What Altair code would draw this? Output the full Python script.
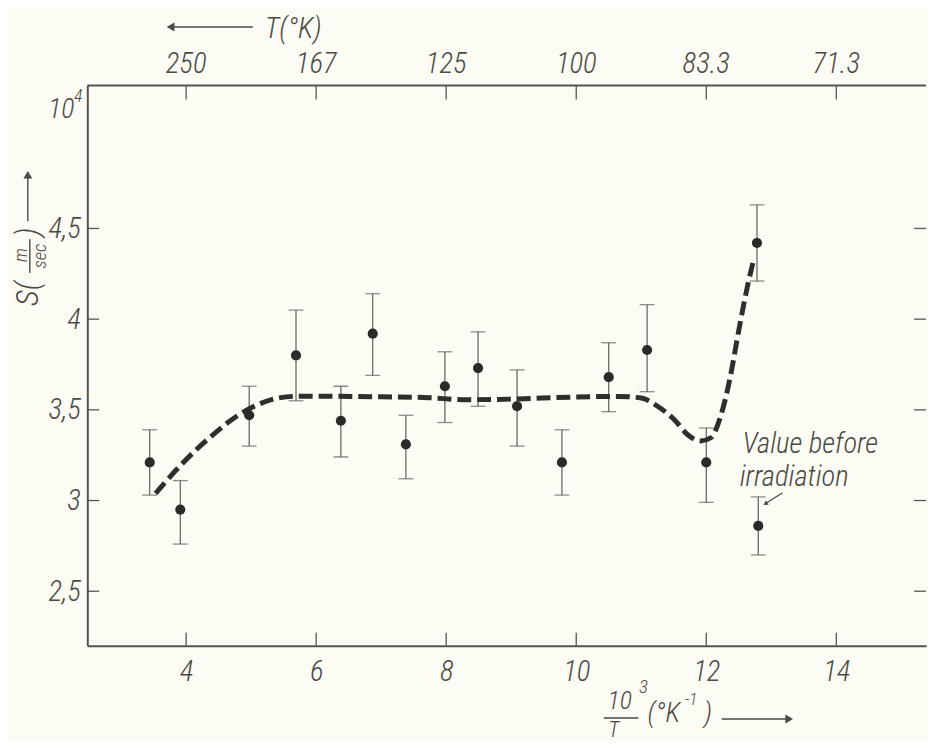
import altair as alt
import pandas as pd

# ---------------- data ----------------
inv_T = [3.44, 3.91, 4.97, 5.69, 6.38, 6.87, 7.38, 7.98, 8.49, 9.09, 9.78, 10.50, 11.09, 12.00, 12.78, 12.80]
S_val = [3.21, 2.95, 3.47, 3.80, 3.44, 3.92, 3.31, 3.63, 3.73, 3.52, 3.21, 3.68, 3.83, 3.21, 4.42, 2.86]
S_hi = [3.39, 3.11, 3.63, 4.05, 3.63, 4.14, 3.47, 3.82, 3.93, 3.72, 3.39, 3.87, 4.08, 3.40, 4.63, 3.02]
S_lo = [3.03, 2.76, 3.30, 3.55, 3.24, 3.69, 3.12, 3.43, 3.52, 3.30, 3.03, 3.49, 3.60, 2.99, 4.21, 2.70]

curve_x = [3.53, 3.93, 4.34, 4.80, 5.11, 5.41, 5.72, 6.00, 7.00, 7.74, 8.26, 9.10, 9.48,
           10.64, 11.00, 11.25, 11.51, 11.71, 11.91, 12.07, 12.22, 12.37, 12.50, 12.63, 12.73]
curve_S = [3.04, 3.20, 3.34, 3.47, 3.53, 3.565, 3.575, 3.575, 3.572, 3.567, 3.556, 3.56, 3.565,
           3.574, 3.565, 3.52, 3.446, 3.364, 3.328, 3.346, 3.464, 3.683, 3.938, 4.175, 4.33]

x_ticks = [4, 6, 8, 10, 12, 14]
top_labels = ["250", "167", "125", "100", "83.3", "71.3"]
y_ticks = [2.5, 3, 3.5, 4, 4.5]

# ---------------- styling ----------------
FONT = "Roboto Condensed, Roboto, sans-serif"
FW = 300
TXT = "#4a4a45"
FRAME = "#55554f"
BAR = "#5e5e58"
DOT = "#2a2a28"
BG = "#fcfbf4"
W, H = 846, 565
LS = 29

xs = alt.Scale(domain=[2.48, 15.38], nice=False, zero=False)
ys = alt.Scale(domain=[2.2, 5.288], nice=False, zero=False)

xaxis = alt.Axis(values=x_ticks, format="d", title=None, ticks=False, tickSize=0, grid=False,
                 domain=True, domainColor=FRAME, domainWidth=2, labelPadding=12,
                 labelAngle=0)
yaxis = alt.Axis(values=y_ticks, format=".1~f", labelExpr="replace(datum.label, '.', ',')",
                 title=None, ticks=False, tickSize=0, grid=False, domain=True,
                 domainColor=FRAME, domainWidth=2, labelPadding=7)

pts = pd.DataFrame({"x": inv_T, "S": S_val, "hi": S_hi, "lo": S_lo})
curve = pd.DataFrame({"x": curve_x, "S": curve_S})
xt = pd.DataFrame({"x": x_ticks, "lab": top_labels})
yt = pd.DataFrame({"y": y_ticks})
one = pd.DataFrame({"k": [0]})

base = alt.Chart(pts)
err = base.mark_rule(color=BAR, strokeWidth=1.2).encode(
    x=alt.X("x:Q", scale=xs, axis=xaxis),
    y=alt.Y("lo:Q", scale=ys, axis=yaxis),
    y2="hi:Q")
cap_hi = base.mark_tick(orient="horizontal", size=15, thickness=1.3, color=BAR).encode(
    x=alt.X("x:Q", scale=xs), y=alt.Y("hi:Q", scale=ys))
cap_lo = base.mark_tick(orient="horizontal", size=15, thickness=1.3, color=BAR).encode(
    x=alt.X("x:Q", scale=xs), y=alt.Y("lo:Q", scale=ys))
dots = base.mark_circle(size=105, color=DOT, opacity=1).encode(
    x=alt.X("x:Q", scale=xs), y=alt.Y("S:Q", scale=ys))

line = alt.Chart(curve).mark_line(color="#2e2e2c", strokeWidth=5, strokeDash=[14, 6],
                                  interpolate="monotone", strokeCap="butt").encode(
    x=alt.X("x:Q", scale=xs), y=alt.Y("S:Q", scale=ys))

# inward ticks
tk = dict(color=FRAME, strokeWidth=1.3)
bt = alt.Chart(xt).mark_rule(**tk).encode(x=alt.X("x:Q", scale=xs), y=alt.value(H), y2=alt.value(H - 13))
tt = alt.Chart(xt).mark_rule(**tk).encode(x=alt.X("x:Q", scale=xs), y=alt.value(0), y2=alt.value(14))
lt = alt.Chart(yt).mark_rule(**tk).encode(y=alt.Y("y:Q", scale=ys), x=alt.value(0), x2=alt.value(12))
rt = alt.Chart(yt).mark_rule(**tk).encode(y=alt.Y("y:Q", scale=ys), x=alt.value(W - 12), x2=alt.value(W))
top_line = alt.Chart(one).mark_rule(color=FRAME, strokeWidth=2).encode(
    x=alt.value(0), x2=alt.value(W), y=alt.value(0))

# top axis labels (T in K)
top_txt = alt.Chart(xt).mark_text(font=FONT, fontSize=LS, fontStyle="italic", fontWeight=FW,
                                  color=TXT, baseline="middle").encode(
    x=alt.X("x:Q", scale=xs), y=alt.value(-22), text="lab:N")


def txt(s, x, y, size=26, align="center", angle=0):
    return alt.Chart(one).mark_text(text=s, font=FONT, fontSize=size, fontStyle="italic",
                                    fontWeight=FW, color=TXT, align=align, baseline="middle",
                                    angle=angle).encode(x=alt.value(x), y=alt.value(y))


def rule(x1, y1, x2, y2, w=1.4):
    return alt.Chart(one).mark_rule(color=TXT, strokeWidth=w).encode(
        x=alt.value(x1), y=alt.value(y1), x2=alt.value(x2), y2=alt.value(y2))


def head(x, y, shape, size=70, angle=0):
    return alt.Chart(one).mark_point(shape=shape, filled=True, color=TXT, size=size, opacity=1,
                                     angle=angle).encode(x=alt.value(x), y=alt.value(y))


deco = [
    # top title  <--- T(K)
    txt("T(°K)", 179, -57, 29, align="left"),
    rule(84, -59, 167, -59),
    head(84, -59, "triangle-left", 80),
    # 10^4 multiplier
    txt("10", -13, 25, 28, align="right"),
    txt("4", -5, 12, 18, align="right"),
    # x title  10^3/T (K^-1) --->
    txt("10", 537, 621, 26),
    rule(521, 638, 556, 638, 1.6),
    txt("T", 531, 650, 22),
    txt("3", 561, 607, 19),
    txt("(°K", 565, 634, 28, align="left"),
    txt("-1", 603, 620, 17, align="left"),
    txt(")", 622, 634, 28, align="left"),
    rule(640, 639, 706, 639),
    head(708, 639, "triangle-right", 80),
    # y title  S(m/sec) --->
    txt("S(", -60, 210, 32, angle=270),
    txt("m", -67, 171, 19, angle=270),
    rule(-58, 155, -58, 189, 1.4),
    txt("sec", -48, 172, 19, angle=270),
    txt(")", -60, 148, 32, angle=270),
    rule(-60, 137, -60, 92),
    head(-60, 90, "triangle-up", 80),
    # annotation
    txt("Value before", 661, 362, 29, align="left"),
    txt("irradiation", 658, 395, 29, align="left"),
    rule(701, 411, 685, 421, 1.2),
    head(684, 422, "triangle-up", 28, angle=237),
]

chart = alt.layer(err, cap_hi, cap_lo, line, dots, bt, tt, lt, rt, top_line, top_txt, *deco).properties(
    width=W, height=H,
    padding={"left": 80, "top": 75, "right": 2, "bottom": 94},
    autosize=alt.AutoSizeParams(type="none"),
    background=BG,
).configure_view(stroke=None).configure_axis(
    labelFont=FONT, labelFontSize=LS, labelFontStyle="italic", labelFontWeight=FW, labelColor=TXT
)

chart.save("out.html", embed_options={"renderer": "svg", "actions": False})
